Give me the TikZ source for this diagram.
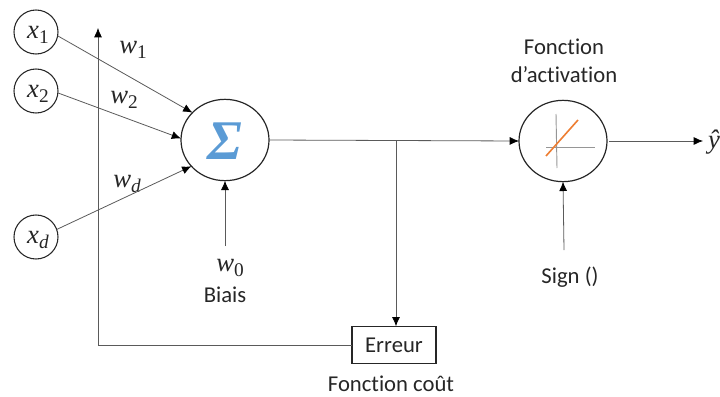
\documentclass[tikz,border=0pt]{standalone}
\usepackage{fontspec}
\setmainfont[Ligatures=NoCommon]{Carlito}
\newfontfamily\mathish{Liberation Serif}
\usetikzlibrary{shapes.geometric,arrows.meta,calc}
\definecolor{linegray}{RGB}{90,90,90}
\definecolor{sigblue}{RGB}{91,155,213}
\definecolor{actorange}{RGB}{237,125,49}
\definecolor{axisgray}{RGB}{150,150,150}
\tikzset{
  every node/.style={inner sep=0pt,outer sep=0pt,text=black!85},
  inputnode/.style={circle,draw=black!85,line width=0.8pt,minimum size=33pt},
  bignode/.style={ellipse,draw=black!85,line width=0.9pt,minimum width=66pt,minimum height=61pt},
  boxnode/.style={rectangle,draw=black!85,line width=0.8pt,minimum width=63pt,minimum height=28pt,font=\fontsize{17}{20}\selectfont},
  conn/.style={draw=linegray,line width=0.6pt,-{Latex[length=7pt,width=6pt,black]}},
  mathlab/.style={font=\mathish\itshape\fontsize{20}{22}\selectfont},
  txt/.style={font=\fontsize{17}{21}\selectfont,align=center}
}
\newcommand{\vsub}[2]{#1\raisebox{-3.5pt}{\fontsize{14.5}{15}\selectfont #2}}
\begin{document}
\begin{tikzpicture}[x=0.75pt,y=-0.75pt]
\useasboundingbox (0,0) rectangle (720,396);
\clip (0,0) rectangle (720,396);
\node[inputnode] (x1) at (36,32) {};
\node[inputnode] (x2) at (36,91) {};
\node[inputnode] (xd) at (36,237) {};
\node[mathlab] at (38,35) {\vsub{x}{\upshape 1}};
\node[mathlab] at (38,94) {\vsub{x}{\upshape 2}};
\node[mathlab] at (38,240) {\vsub{x}{d}};
\node[bignode] (sum) at (225,140) {};
\node[bignode] (act) at (563,141) {};
\node[font=\bfseries\itshape\fontsize{42}{44}\selectfont,text=sigblue] (sig) at (225,141) {\mathish\char"03A3};
\node[boxnode] (err) at (394,345) {Erreur};
\node[mathlab] (w1) at (133,50) {\vsub{w}{\upshape 1}};
\node[mathlab] (w2) at (124,100) {\vsub{w}{\upshape 2}};
\node[mathlab] (wd) at (127,184) {\vsub{w}{d}};
\node[mathlab] (w0) at (230,268) {\vsub{w}{\upshape 0}};
\node[txt] (biais) at (225,295) {Biais};
\node[txt] (sign) at (570,277) {Sign ()};
\node[txt] (fa) at (564,61) {Fonction\\d’activation};
\node[txt] (fc) at (391,384) {Fonction coût};
\node[mathlab,anchor=east] (yhat) at (720,142) {ŷ};
\coordinate (bias0) at (225,246);
\coordinate (sign0) at (564,250);
\coordinate (branch) at (396,140);
\coordinate (corner) at (98,345);
\coordinate (top) at (98,28);
\coordinate (out) at (703,141);
\draw[conn] (x1.-10) -- (sum.140);
\draw[conn] (x2.-5) -- (sum.178);
\draw[conn] (xd.20) -- (sum.218);
\draw[conn] (bias0) -- (sum.south);
\draw[conn] (sign0) -- (act.south);
\draw[conn] (sum.east) -- (act.west);
\draw[conn] (branch) -- (err.north -| branch);
\draw[conn] (err.west) -- (corner) -- (top);
\draw[conn] (act.east) ++(2,0) -- (out);
\draw[axisgray,line width=0.7pt] (556,114) -- (557,168);
\draw[axisgray,line width=0.7pt] (546,147) -- (595,147);
\draw[actorange,line width=1.2pt] (546,156) -- (578,120);
\end{tikzpicture}
\end{document}
